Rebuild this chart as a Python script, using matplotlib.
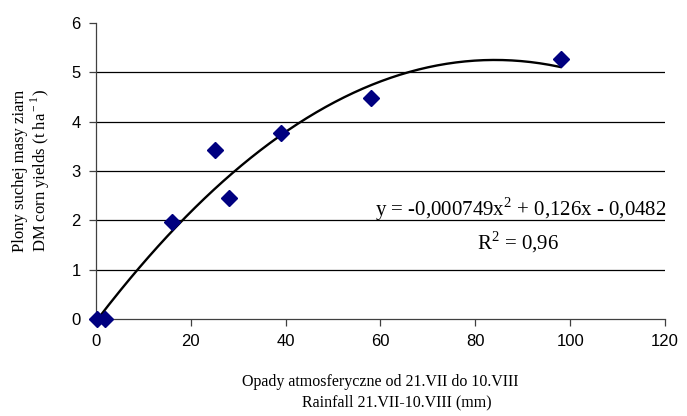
import numpy as np
import matplotlib
matplotlib.use("Agg")
import matplotlib.pyplot as plt

# rainfall (mm) vs DM corn yields (t/ha)
rainfall = [0.3, 1.8, 16, 25, 28, 39, 58, 98]
yields = [0.0, 0.0, 1.97, 3.43, 2.45, 3.78, 4.48, 5.27]

# polynomial trend line coefficients (a, b, c)
trend_coef = [-0.000749, 0.126, -0.0482]

x_ticks = [0, 20, 40, 60, 80, 100, 120]
y_ticks = [0, 1, 2, 3, 4, 5, 6]


def main():
    fig = plt.figure(figsize=(6.87, 4.16), dpi=100)
    ax = fig.add_axes([0.1397, 0.2332, 0.8283, 0.7115])

    for y in y_ticks[1:-1]:
        ax.axhline(y, color="black", linewidth=0.9, zorder=1)

    xs = np.linspace(min(rainfall), max(rainfall), 200)
    ax.plot(xs, np.polyval(trend_coef, xs), color="black", linewidth=1.7, zorder=3)

    ax.plot(rainfall, yields, linestyle="none", marker="D", markersize=8,
            color="#000080", zorder=4, clip_on=False)

    ax.set_xlim(0, 120)
    ax.set_ylim(0, 6)
    ax.set_xticks(x_ticks)
    ax.set_yticks(y_ticks)
    for s in ["top", "right"]:
        ax.spines[s].set_visible(False)
    for s in ["left", "bottom"]:
        ax.spines[s].set_color("#404040")
        ax.spines[s].set_linewidth(0.9)
    ax.tick_params(direction="out", length=5, width=0.9, color="#404040",
                   labelsize=12, pad=6)
    for lab in ax.get_xticklabels() + ax.get_yticklabels():
        lab.set_family("Liberation Sans")

    serif = "Liberation Serif"
    fig.text(380 / 687, 1 - 382 / 416, "Opady atmosferyczne od 21.VII do 10.VIII",
             ha="center", va="center", family=serif, fontsize=11.5)
    fig.text(397 / 687, 1 - 402 / 416, "Rainfall 21.VII-10.VIII (mm)",
             ha="center", va="center", family=serif, fontsize=11.5)
    fig.text(20 / 687, 1 - 171 / 416, "Plony suchej masy ziarn",
             ha="center", va="center", rotation=90, family=serif, fontsize=12)
    fig.text(40 / 687, 1 - 171 / 416, r"DM corn yields (t ha$^{\rm -1}$)",
             ha="center", va="center", rotation=90, family=serif, fontsize=12)

    ax.text(521 / 687, 1 - 209 / 416,
            r"y = -0,000749x$^{\rm 2}$ + 0,126x - 0,0482",
            transform=fig.transFigure, ha="center", va="center",
            family=serif, fontsize=15)
    ax.text(518 / 687, 1 - 242 / 416, r"R$^{\rm 2}$ = 0,96",
            transform=fig.transFigure, ha="center", va="center",
            family=serif, fontsize=15)

    fig.savefig("out.png", dpi=100)


if __name__ == "__main__":
    plt.rcParams["mathtext.fontset"] = "custom"
    plt.rcParams["mathtext.rm"] = "Liberation Serif"
    main()
